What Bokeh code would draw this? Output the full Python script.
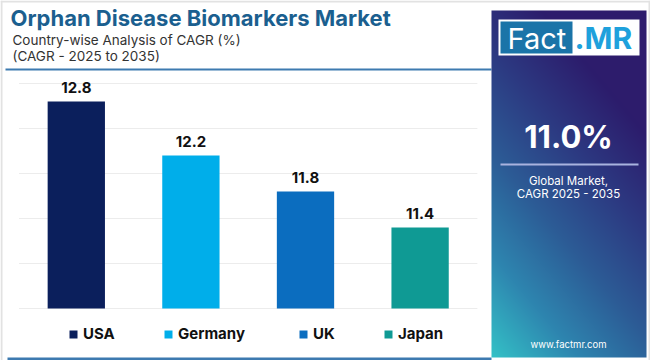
import numpy as np
from bokeh.plotting import figure
from bokeh.models import Range1d, ColumnDataSource, Legend, LegendItem
from bokeh.core.properties import value
from bokeh.embed import file_html
from bokeh.resources import INLINE

# ---------------- data ----------------
countries = ["USA", "Germany", "UK", "Japan"]
cagr = [12.8, 12.2, 11.8, 11.4]
bar_colors = ["#0b1f5c", "#00aeea", "#0b6dbf", "#0f9a94"]
grid_values = [10.5, 11.0, 11.5, 12.0, 12.5, 13.0]
y_min = 10.5

title = "Orphan Disease Biomarkers Market"
subtitle1 = "Country-wise Analysis of CAGR (%)"
subtitle2 = "(CAGR - 2025 to 2035)"
global_cagr = "11.0%"
global_lines = ["Global Market,", "CAGR 2025 - 2035"]
website = "www.factmr.com"

FONT = "Inter"
W, H = 650, 360
K = 0.35  # baseline correction factor


def RX(x):
    return x


def RY(y):
    return H - y


def TB(y, size):
    """data y for a text whose baseline should sit at screen y"""
    return RY(y - K * size)


p = figure(width=W, height=H, output_backend="svg", toolbar_location=None,
           x_range=Range1d(0, W), y_range=Range1d(0, H),
           x_axis_type=None, y_axis_type=None, min_border=0,
           outline_line_color=None, background_fill_color="white",
           border_fill_color="white")
p.grid.visible = False

# ranges for the bar chart part (bar centre 0 at x=75.8, 114.6 px per slot;
# value 10.5 at y=308, 90 px per unit)
p.extra_x_ranges = {"idx": Range1d(-75.8 / 114.6, (W - 75.8) / 114.6)}
p.extra_y_ranges = {"val": Range1d(10.5 - (H - 308) / 90.0, 10.5 + 308 / 90.0)}

# outer light border
p.segment(x0=[1, 0, 649], x1=[1, 650, 649], y0=[0, RY(1), 0], y1=[360, RY(1), 360],
          line_color="#e2e2e2", line_width=2)

# gridlines
p.segment(x0=[-0.5] * len(grid_values), x1=[len(countries) - 0.5] * len(grid_values),
          y0=grid_values, y1=grid_values, line_color="#ececec", line_width=1,
          x_range_name="idx", y_range_name="val")

src = ColumnDataSource(dict(idx=list(range(len(countries))), country=countries,
                            cagr=cagr, color=bar_colors,
                            label=[f"{v:.1f}" for v in cagr]))
bars = p.vbar(x="idx", top="cagr", bottom=y_min, width=0.5, fill_color="color",
              line_color=None, source=src, x_range_name="idx", y_range_name="val")
p.text(x="idx", y="cagr", text="label", source=src, x_range_name="idx", y_range_name="val",
       text_align="center", text_baseline="alphabetic", y_offset=-(9 + K * 15),
       text_font=value(FONT), text_font_style="bold", text_font_size="15px",
       text_color="#111111")

# title block
p.text(x=[RX(10)], y=[TB(25, 22)], text=[title], text_font=value(FONT), text_font_style="bold",
       text_font_size="22px", text_color="#1b5f8f", text_baseline="alphabetic")
p.text(x=[RX(12)], y=[TB(44, 13.5)], text=[subtitle1], text_font=value(FONT),
       text_font_size="13.5px", text_color="#333333", text_baseline="alphabetic")
p.text(x=[RX(12)], y=[TB(60, 13.5)], text=[subtitle2], text_font=value(FONT),
       text_font_size="13.5px", text_color="#333333", text_baseline="alphabetic")
p.segment(x0=[RX(5)], x1=[RX(491)], y0=[RY(69)], y1=[RY(69)], line_color="#3d7ab0", line_width=2)
p.segment(x0=[RX(7)], x1=[RX(491)], y0=[RY(358.5)], y1=[RY(358.5)], line_color="#3d7ab0", line_width=3)

# legend, one item per country
legend_x = [68, 163, 298, 383]
for i, c in enumerate(countries):
    lg = Legend(items=[LegendItem(label=c, renderers=[bars], index=i)],
                location=(RX(legend_x[i]), RY(343)), orientation="horizontal",
                padding=0, margin=0, border_line_color=None, background_fill_alpha=0,
                glyph_width=10, glyph_height=10, label_height=10, label_standoff=5,
                label_text_font=FONT, label_text_font_style="bold",
                label_text_font_size="15px", label_text_color="#111111")
    p.add_layout(lg, "center")

# right panel gradient
px0, px1, py0, py1 = 491, 646, 10, 357
pw, ph = px1 - px0, py1 - py0
rows = np.arange(ph)[:, None]
cols = np.arange(pw)[None, :]
yn = (rows + 0.5) / ph
xn = (cols + 0.5) / pw
t = np.clip(0.45 * xn + 0.85 * yn, 0, 1)
stops_t = [0.0, 0.25, 0.5, 0.75, 1.0]
stops_c = [(0x34, 0xc2, 0xc7), (0x2e, 0x86, 0xb0), (0x2c, 0x5c, 0x96),
           (0x2c, 0x3a, 0x82), (0x2d, 0x1c, 0x6c)]
img = np.zeros((ph, pw), dtype=np.uint32)
view = img.view(dtype=np.uint8).reshape((ph, pw, 4))
for k in range(3):
    view[:, :, k] = np.interp(t, stops_t, [s[k] for s in stops_c]).astype(np.uint8)
view[:, :, 3] = 255
p.image_rgba(image=[img], x=RX(px0), y=RY(py1), dw=pw, dh=ph)

# logo
p.quad(left=[RX(498)], right=[RX(639)], top=[RY(19)], bottom=[RY(55)], fill_color="white", line_color=None)
p.quad(left=[RX(500)], right=[RX(572)], top=[RY(21)], bottom=[RY(53)], fill_color="#1a74a8", line_color=None)
p.text(x=[RX(507)], y=[TB(48, 29)], text=["Fact"], text_font=value(FONT), text_font_size="29px",
       text_color="white", text_baseline="alphabetic")
p.text(x=[RX(574)], y=[TB(48, 30)], text=[".MR"], text_font=value(FONT), text_font_style="bold",
       text_font_size="30px", text_color="#1ea1dc", text_baseline="alphabetic")

cx = RX(568)
p.text(x=[cx], y=[TB(147, 31)], text=[global_cagr], text_font=value(FONT), text_font_style="bold",
       text_font_size="31px", text_color="white", text_align="center", text_baseline="alphabetic")
p.segment(x0=[RX(500)], x1=[RX(638)], y0=[RY(164)], y1=[RY(164)], line_color="#a9b3df", line_width=2)
p.text(x=[cx, cx], y=[TB(185, 11.5), TB(198, 11.5)], text=global_lines, text_font=value(FONT),
       text_font_size="11.5px", text_color="white", text_align="center", text_baseline="alphabetic")
p.text(x=[cx], y=[TB(347, 9.5)], text=[website], text_font=value(FONT), text_font_size="9.5px",
       text_color="white", text_align="center", text_baseline="alphabetic")

open("out.html", "w").write(file_html(p, INLINE))
